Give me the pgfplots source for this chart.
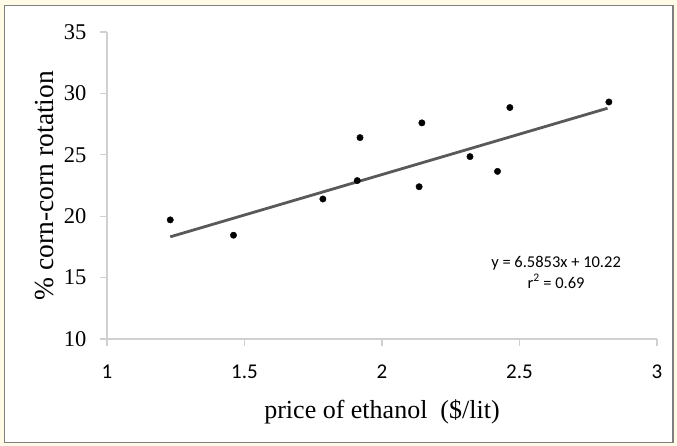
\documentclass[border=0pt]{standalone}
\usepackage{pgfplots}
\pgfplotsset{compat=1.18}
\usepackage{fontspec}
\setmainfont{Liberation Serif}
\newfontfamily\calibri{Carlito}
\definecolor{trend}{HTML}{595959}
\definecolor{axisgray}{HTML}{D0D0D0}
\definecolor{cream}{HTML}{FFFBE6}
\definecolor{framegray}{HTML}{7F7F7F}

\begin{document}
\begin{tikzpicture}[x=1pt,y=1pt]
% page background and frame
\fill[cream] (0,0) rectangle (677,446);
\filldraw[fill=white,draw=framegray,line width=1.2pt] (4.5,3.5) rectangle (673,440.5);
\begin{axis}[
  at={(107pt,107pt)}, anchor=south west,
  scale only axis, width=550pt, height=307pt,
  xmin=1, xmax=3, ymin=10, ymax=35,
  xtick={1,1.5,2,2.5,3}, ytick={10,15,...,35},
  axis x line*=bottom, axis y line*=left,
  axis line style={axisgray, line width=1.2pt},
  tick style={axisgray, line width=1.2pt},
  tick align=outside, major tick length=7pt,
  xticklabel style={font=\calibri\fontsize{21}{25}\selectfont, yshift=-15pt},
  yticklabel style={font=\fontsize{22.5}{26}\selectfont, xshift=-10pt},
  /pgf/number format/assume math mode=true,
  xlabel={price of ethanol\ \ (\$/lit)},
  ylabel={\% corn-corn rotation},
  xlabel style={font=\fontsize{26}{30}\selectfont, at={(axis description cs:0.5,-0.2378)}, anchor=center},
  ylabel style={font=\fontsize{27.5}{31}\selectfont, at={(axis description cs:-0.1127,0.5)}, anchor=center},
  clip=false,
]
\addplot[only marks, mark=*, mark size=3.2pt, black] coordinates {
  (1.23,19.7) (1.46,18.45) (1.785,21.4) (1.91,22.9) (1.92,26.4)
  (2.135,22.4) (2.145,27.6) (2.32,24.85) (2.42,23.65) (2.465,28.85)
  (2.825,29.3)
};
% linear trend line
\addplot[trend, line width=2.8pt] coordinates {(1.23,18.32) (2.82,28.79)};
\node[font=\calibri\fontsize{16.5}{21}\selectfont, align=center]
  at (axis cs:2.633,15.45) {y = 6.5853x + 10.22\\r\textsuperscript{2} = 0.69};
\end{axis}
\end{tikzpicture}
\end{document}
